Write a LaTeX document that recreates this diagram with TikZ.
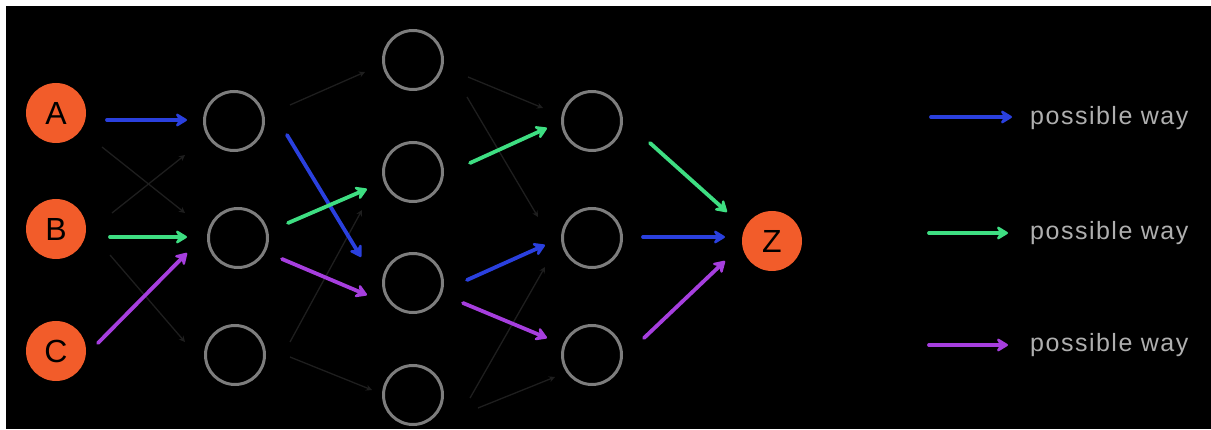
\documentclass[tikz,border=0pt]{standalone}
\usepackage{fontspec}
\usetikzlibrary{arrows.meta}
\newfontfamily\legendfont[LetterSpace=6]{Liberation Sans}
\newfontfamily\letterfont{Liberation Sans}

\definecolor{nodeorange}{RGB}{242,92,42}
\definecolor{ringgray}{RGB}{125,125,125}
\definecolor{waygray}{RGB}{175,175,175}
\definecolor{faintgray}{RGB}{30,30,30}
\definecolor{wayblue}{RGB}{42,64,222}
\definecolor{waygreen}{RGB}{62,222,130}
\definecolor{waypurple}{RGB}{166,62,222}

\begin{document}
\begin{tikzpicture}[x=1pt,y=-1pt,
  inp/.style={circle,fill=nodeorange,minimum size=60pt,inner sep=0pt,
    font=\letterfont\fontsize{32}{32}\selectfont,text=black},
  hid/.style={circle,draw=ringgray,line width=3pt,minimum size=59pt,inner sep=0pt},
  way/.style={line width=3.8pt,line cap=round,
    -{Stealth[length=14pt,width=17pt,inset=5pt,round]}},
  wayb/.style={way,draw=wayblue},
  wayg/.style={way,draw=waygreen},
  wayp/.style={way,draw=waypurple},
  faint/.style={draw=faintgray,line width=1.3pt,-{Stealth[length=6pt,width=6pt]}},
  legend/.style={inner sep=0pt,text=waygray,font=\legendfont\fontsize{25}{25}\selectfont}]

% page and dark board
\fill[white] (0,0) rectangle (1211,430);
\fill[black] (6,6) rectangle (1211,429);
\useasboundingbox (0,0) rectangle (1211,430);

% input, hidden and output nodes
\node[inp] (A) at (56,113) {A};
\node[inp] (B) at (56,229) {B};
\node[inp] (C) at (56,351) {C};

\node[hid] (L1a) at (234,121) {};
\node[hid] (L1b) at (238,238) {};
\node[hid] (L1c) at (235,355) {};

\node[hid] (L2a) at (413,60) {};
\node[hid] (L2b) at (413,172) {};
\node[hid] (L2c) at (413,283) {};
\node[hid] (L2d) at (413,395) {};

\node[hid] (L3a) at (592,121) {};
\node[hid] (L3b) at (592,238) {};
\node[hid] (L3c) at (592,355) {};

\node[inp] (Z) at (772,241) {Z};

% unused connections
\draw[faint] ([shift={(46,34)}]A.center) -- ([shift={(-53,-25)}]L1b.center);
\draw[faint] ([shift={(56,-16)}]B.center) -- ([shift={(-49,34)}]L1a.center);
\draw[faint] ([shift={(54,26)}]B.center) -- ([shift={(-50,-13)}]L1c.center);
\draw[faint] ([shift={(56,-16)}]L1a.center) -- ([shift={(-48,12)}]L2a.center);
\draw[faint] ([shift={(55,-13)}]L1c.center) -- ([shift={(-51,38)}]L2b.center);
\draw[faint] ([shift={(55,2)}]L1c.center) -- ([shift={(-41,-5)}]L2d.center);
\draw[faint] ([shift={(55,17)}]L2a.center) -- ([shift={(-49,-13)}]L3a.center);
\draw[faint] ([shift={(54,37)}]L2a.center) -- ([shift={(-54,-21)}]L3b.center);
\draw[faint] ([shift={(57,3)}]L2d.center) -- ([shift={(-47,29)}]L3b.center);
\draw[faint] ([shift={(65,13)}]L2d.center) -- ([shift={(-37,22)}]L3c.center);

% blue way
\draw[wayb] ([shift={(51,7)}]A.center) -- ([shift={(-47,-1)}]L1a.center);
\draw[wayb] ([shift={(53,14)}]L1a.center) -- ([shift={(-52,-26)}]L2c.center);
\draw[wayb] ([shift={(54,-3)}]L2c.center) -- ([shift={(-47,7)}]L3b.center);
\draw[wayb] ([shift={(51,-1)}]L3b.center) -- ([shift={(-47,-4)}]Z.center);

% green way
\draw[wayg] ([shift={(54,8)}]B.center) -- ([shift={(-51,-1)}]L1b.center);
\draw[wayg] ([shift={(50,-15)}]L1b.center) -- ([shift={(-46,17)}]L2b.center);
\draw[wayg] ([shift={(57,-9)}]L2b.center) -- ([shift={(-45,7)}]L3a.center);
\draw[wayg] ([shift={(58,22)}]L3a.center) -- ([shift={(-45,-29)}]Z.center);

% purple way
\draw[wayp] ([shift={(42,-8)}]C.center) -- ([shift={(-51,15)}]L1b.center);
\draw[wayp] ([shift={(44,21)}]L1b.center) -- ([shift={(-46,12)}]L2c.center);
\draw[wayp] ([shift={(50,20)}]L2c.center) -- ([shift={(-45,-17)}]L3c.center);
\draw[wayp] ([shift={(52,-17)}]L3c.center) -- ([shift={(-47,20)}]Z.center);

% legend
\node[legend,anchor=base west] (lg1) at (1030,125) {possible way};
\node[legend,anchor=base west] (lg2) at (1030,240) {possible way};
\node[legend,anchor=base west] (lg3) at (1030,352) {possible way};
\coordinate (lb1) at (931,117);
\coordinate (lb2) at (929,233);
\coordinate (lb3) at (929,345);
\draw[wayb] (lb1) -- ([xshift=-18pt]lg1.west |- lb1);
\draw[wayg] (lb2) -- ([xshift=-22pt]lg2.west |- lb2);
\draw[wayp] (lb3) -- ([xshift=-22pt]lg3.west |- lb3);
\end{tikzpicture}
\end{document}
